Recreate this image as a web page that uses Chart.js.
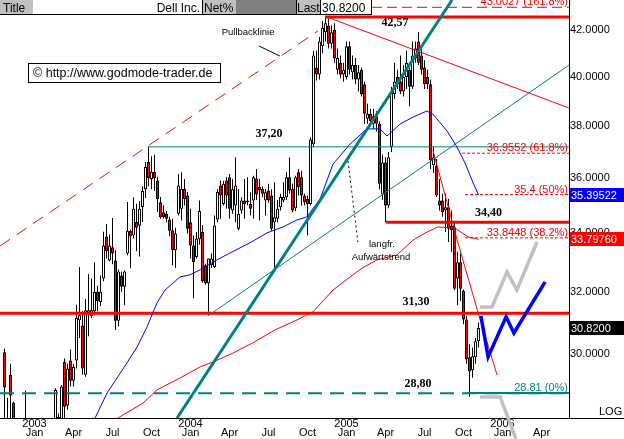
<!DOCTYPE html>
<html>
<head>
<meta charset="utf-8">
<title>Dell Inc. weekly</title>
<script src="https://cdn.jsdelivr.net/npm/chart.js@4.4.0/dist/chart.umd.min.js"></script>
<style>
  html, body { margin: 0; padding: 0; background: #fff; }
  #wrap { width: 624px; height: 439px; }
  canvas { display: block; }
</style>
</head>
<body>
<div id="wrap"><canvas id="chart" width="624" height="439"></canvas></div>
<script>
/* ------------------------------------------------------------
   Dell Inc. weekly candles, index 0 = late Oct 2002.
   null = week sits completely below the visible price range.
   ------------------------------------------------------------ */
const opens = [30.05,27.6,29.36,28.52,null,null,null,27.6,null,null,null,null,null,null,null,null,null,27.6,27.8,27.9,
  29.76,28.43,29.80,29.18,29.80,31.07,30.9,29.36,31.3,31.2,31.36,32.0,31.66,32.45,33.89,33.06,33.52,33.06,31.05,32.55,
  32.17,33.3,34.1,33.93,34.41,34.27,34.95,35.6,36.62,35.98,36.25,35.92,35.12,34.76,34.7,34.5,34.11,33.41,34.70,34.88,
  35.61,35.37,34.40,33.58,33.18,33.8,34.05,32.9,32.29,32.9,32.84,34.5,35.74,35.06,35.92,36.04,34.82,35.0,34.17,34.82,
  35.18,35.12,35.06,35.18,36.0,35.68,35.61,35.18,35.55,35.37,34.40,34.52,34.94,35.18,35.3,36.04,35.61,34.9,36.23,36.04,
  35.37,35.24,35.06,37.3,40.4,40.1,41.3,41.9,42.2,41.4,42.0,40.3,40.6,40.1,40.0,41.3,40.2,40.5,39.9,40.3,
  39.7,38.3,38.5,38.1,38.4,38.1,35.4,36.6,35.0,37.2,39.3,40.0,39.8,39.4,40.0,40.3,39.6,40.8,41.5,40.9,
  40.4,40.0,39.7,36.5,36.48,35.18,35.18,34.82,34.94,34.28,34.22,32.45,33.0,32.03,31.09,29.9,29.5,29.9,30.4];
const highs = [30.17,28.67,29.70,28.55,null,null,null,28.88,null,null,null,null,null,null,null,null,null,28.95,28.2,29.05,
  29.86,29.70,30.14,29.7,31.57,32.84,31.36,31.76,32.6,32.45,33.0,32.2,32.55,34.06,34.34,33.96,34.55,33.41,32.75,32.68,
  32.72,35.13,34.13,35.3,35.07,35.17,35.71,36.62,37.20,36.84,36.9,36.06,35.31,35.0,34.8,34.6,34.52,34.2,36.17,36.23,
  35.98,35.5,34.88,33.93,34.05,35.18,34.3,32.95,33.13,33.3,34.64,35.6,35.92,35.9,36.04,36.17,35.98,36.79,35.61,35.3,
  35.98,36.04,35.49,36.10,36.35,35.98,35.7,35.61,35.8,35.6,35.86,35.2,35.43,35.86,36.23,36.79,35.8,36.1,36.35,36.29,
  35.43,35.37,37.57,41.1,41.1,41.7,42.4,42.57,42.5,42.2,42.3,41.2,40.9,40.6,41.5,41.5,40.9,40.8,40.5,40.4,
  39.8,38.9,38.7,38.7,38.6,38.2,36.9,36.8,37.0,39.6,40.6,40.3,40.9,40.5,41.1,40.4,41.5,41.5,41.9,41.3,
  40.7,40.3,39.9,37.2,36.73,35.98,35.43,35.43,35.24,34.82,34.4,33.36,33.3,32.08,31.2,30.3,30.2,30.5,31.0];
const lows = [27.8,27.3,27.8,27.5,null,null,null,27.4,null,null,null,null,null,null,null,null,null,27.4,27.6,27.7,
  27.9,28.31,29.0,29.0,29.55,30.5,29.36,29.3,30.56,31.14,31.23,31.36,31.53,32.35,33.13,33.03,32.93,30.76,30.88,32.0,
  31.56,33.24,32.79,33.82,33.38,33.2,34.41,35.28,35.71,35.6,35.53,34.77,34.52,34.52,34.4,33.9,32.90,32.8,34.64,34.46,
  35.0,34.0,33.13,31.79,33.13,33.6,32.3,32.24,31.25,32.8,32.79,34.4,34.52,35.0,34.88,34.52,34.7,34.40,34.11,34.7,
  34.52,35.0,34.64,34.52,35.2,34.46,35.3,34.64,35.1,34.1,32.73,34.4,34.82,35.12,35.2,35.43,34.76,34.8,35.37,35.0,
  35.0,33.93,35.0,37.2,39.85,39.9,41.0,41.5,41.2,41.2,40.6,40.1,39.95,39.8,39.9,40.1,39.9,39.7,39.4,39.2,
  38.1,38.1,38.0,37.9,37.8,35.6,35.2,34.40,34.9,37.0,39.1,39.5,39.3,39.2,39.5,38.8,39.5,40.6,40.5,40.1,
  39.5,39.5,36.35,36.2,35.31,34.82,34.6,34.05,33.70,33.36,32.05,31.56,31.7,30.94,29.7,28.70,29.27,29.7,30.2];
const closes = [28.97,27.9,28.73,27.9,null,null,null,27.9,null,null,null,null,null,null,null,null,null,28.9,28.1,29.0,
  28.40,29.55,29.18,29.6,31.14,31.23,29.55,31.39,31.39,31.39,32.0,31.7,32.0,33.58,33.38,33.58,33.3,31.05,32.68,32.17,
  32.68,34.1,33.9,34.88,34.2,34.88,35.53,36.43,36.01,36.25,36.01,35.24,34.58,34.58,34.52,34.1,33.41,34.0,35.74,35.61,
  35.24,34.17,33.58,33.01,33.82,34.8,32.35,32.29,33.13,33.13,34.28,35.5,35.37,35.80,35.37,34.88,35.6,35.74,34.70,35.18,
  35.06,35.18,34.88,36.04,35.4,35.55,35.43,35.49,35.18,34.17,34.58,34.88,35.31,35.31,36.04,35.55,34.82,36.04,35.68,35.37,
  35.12,35.06,37.49,40.9,40.1,41.5,42.1,42.3,41.4,41.9,40.8,40.8,40.1,40.3,41.3,40.3,40.5,39.9,40.2,39.3,
  38.5,38.5,38.2,38.4,38.1,35.8,36.6,35.0,36.8,39.4,39.8,39.7,39.4,40.0,40.6,39.6,40.9,41.2,40.6,40.3,
  39.7,39.7,36.7,36.8,35.37,35.0,34.76,34.94,34.17,34.11,32.1,33.0,32.1,31.09,29.83,29.46,29.93,30.4,30.82];

// moving averages (week index, price)
const blueAvgWeek = [30.2,34.2,37.5,40.8,44.2,47.5,50.8,53.5,58.5,61.8,65.2,70.8,75.2,81.8,87.5,92.8,97.5,100.8,105.2,109.5,
  115.2,120.8,125.2,127.5,131.8,136.2,140.8,142.8,147.5,150.8,153.5,156.2,158];
const blueAvgValue = [28.07,28.81,29.26,29.72,30.22,30.85,31.63,32.06,32.50,32.57,32.74,33.08,33.32,33.67,34.02,34.23,34.48,34.59,35.24,36.54,
  37.31,37.90,37.90,37.62,38.09,38.37,38.61,38.49,37.82,37.20,36.58,35.83,35.39522];
const redAvgWeek = [37.8,46.2,50.8,58.5,65.2,69.5,76.2,82.8,90.2,97.5,102.8,109.5,115.2,119.2,124.2,130.8,136.2,140.8,144.5,150.2,154.5,158];
const redAvgValue = [28.07,28.51,28.90,29.26,29.60,29.75,30.03,30.35,30.76,31.08,31.34,32.06,32.50,32.80,33.08,33.25,33.77,34.05,34.23,34.19,33.88,33.7976];

// support / resistance levels
const levelValues = [42.57, 37.20, 34.40, 31.30, 28.80];
const levelStart = [106.8, 47.8, 127.2, -1.5, -1.5];
const levelLabels = ['42,57', '37,20', '34,40', '31,30', '28,80'];
const levelLabelWeek = [130.2, 88.2, 161.3, 137.2, 137.8];
const levelLabelPrice = [42.31, 37.70, 34.73, 31.66, 29.08];

// fibonacci levels
const fibValues = [43.0027, 36.9552, 35.4, 33.8448, 28.81];
const fibStart = [122.5, 152.5, 153.5, 153.5, 154.2];
const fibLabels = ['43.0027 (161.8%)', '36.9552 (61.8%)', '35.4 (50%)', '33.8448 (38.2%)', '28.81 (0%)'];

// trend lines and projections (week index, price)
const pullbackWeek = [-1.5, 104.5], pullbackPrice = [33.56, 41.96];
const upThickWeek = [57.5, 149.2], upThickPrice = [28.07, 43.33];
const upThinWeek = [67.8, 188.2], upThinPrice = [31.21, 40.50];
const downWeek = [107.5, 188.2], downPrice = [42.57, 38.73];
const steepWeek = [142.8, 150.8, 157.8, 164.2], steepPrice = [37.08, 33.80, 31.34, 29.35];
const blueProjWeek = [158.8, 161.2, 167.2, 169.8, 180.2], blueProjPrice = [31.21, 29.91, 31.18, 30.66, 32.33];
const grayUpWeek = [158.5, 162.5, 167.5, 170.8, 177.5], grayUpPrice = [31.50, 31.50, 32.67, 32.06, 33.70];
const grayDownWeek = [158.5, 165.2, 170.5], grayDownPrice = [28.69, 28.69, 27.47];
const pullbackPointerWeek = [84.8, 91.8], pullbackPointerPrice = [41.31, 40.88];
const trendPointerWeek = [114.5, 117.8], trendPointerPrice = [36.66, 33.70];

// notes
const noteTexts = ['Pullbacklinie', 'langfr.', 'Aufwärtstrend'];
const noteWeek = [81.2, 125.8, 125.5];
const notePrice = [41.91, 33.63, 33.18];

// axis ticks
const tickWeeks = [10, 23, 36, 49, 62, 75, 88, 101, 114, 127, 140, 153, 166, 179];
const tickMonths = ['Jan','Apr','Jul','Oct','Jan','Apr','Jul','Oct','Jan','Apr','Jul','Oct','Jan','Apr'];
const tickYears = ['2003','','','','2004','','','','2005','','','','2006',''];
const priceTicks = [30, 32, 34, 36, 38, 40, 42];

// last values flagged on the price axis
const markerValues = [35.39522, 33.7976, 30.82];
const markerLabels = ['35.39522', '33.79760', '30.8200'];

/* ------------------------------------------------------------ */

const RED = '#ff0000', TEAL = '#008080', BLUE = '#0000ff', GRAY = '#c0c0c0';
const X_MIN = -1.5, X_MAX = X_MIN + 569 / 3;
const Y_MIN = 28.07, Y_MAX = 43.33;
const FONT = '"Liberation Sans", Arial, sans-serif';

Chart.defaults.font.family = FONT;
Chart.defaults.font.size = 11;
Chart.defaults.color = '#000';

const wickData = [], bodyData = [], bodyFill = [];
opens.forEach((o, i) => {
  if (o === null) return;
  wickData.push({ x: i, y: [lows[i], highs[i]] });
  bodyData.push({ x: i, y: [o, closes[i]] });
  bodyFill.push(closes[i] >= o ? '#ffffff' : RED);
});

const datasets = [];

function addLine(weeks, prices, style) {
  datasets.push(Object.assign({
    type: 'line',
    data: weeks.map((w, k) => ({ x: w, y: prices[k] })),
    pointRadius: 0,
    fill: false,
    tension: 0,
    borderCapStyle: 'butt',
    borderWidth: 1,
    order: 3,
  }, style));
}

// projections on top
addLine(blueProjWeek, blueProjPrice, { borderColor: BLUE, borderWidth: 3.5, order: 0 });
addLine(grayUpWeek, grayUpPrice, { borderColor: GRAY, borderWidth: 3.5, order: 0 });
addLine(grayDownWeek, grayDownPrice, { borderColor: GRAY, borderWidth: 3.5, order: 0, clip: false });

// trend lines
addLine(upThickWeek, upThickPrice, { borderColor: TEAL, borderWidth: 3, order: 1 });
addLine(upThinWeek, upThinPrice, { borderColor: TEAL, order: 2 });
addLine(downWeek, downPrice, { borderColor: RED, order: 2 });
addLine(steepWeek, steepPrice, { borderColor: RED, order: 2 });
addLine(pullbackWeek, pullbackPrice, { borderColor: RED, borderDash: [12, 8], order: 2 });
addLine(pullbackPointerWeek, pullbackPointerPrice, { borderColor: '#000', order: 2 });
addLine(trendPointerWeek, trendPointerPrice, { borderColor: '#000', borderDash: [2, 3], order: 2 });

// moving averages
addLine(blueAvgWeek, blueAvgValue, { borderColor: BLUE, order: 3 });
addLine(redAvgWeek, redAvgValue, { borderColor: RED, order: 3 });

// horizontal levels
const levelStyles = [
  { borderColor: RED, borderWidth: 3 },
  { borderColor: TEAL, borderWidth: 1 },
  { borderColor: RED, borderWidth: 3 },
  { borderColor: RED, borderWidth: 3 },
  { borderColor: TEAL, borderWidth: 2, borderDash: [14, 8] },
];
levelValues.forEach((v, k) => addLine([levelStart[k], X_MAX], [v, v], Object.assign({ order: 4 }, levelStyles[k])));

const fibStyles = [
  { borderColor: RED, borderDash: [10, 5] },
  { borderColor: RED, borderDash: [3, 2] },
  { borderColor: RED, borderDash: [3, 2] },
  { borderColor: RED, borderDash: [3, 2] },
  { borderColor: TEAL, borderWidth: 2 },
];
fibValues.forEach((v, k) => addLine([fibStart[k], X_MAX], [v, v], Object.assign({ order: 4 }, fibStyles[k])));

// candles
datasets.push({
  type: 'bar',
  data: bodyData,
  backgroundColor: bodyFill,
  borderColor: '#000',
  borderWidth: 1,
  borderSkipped: false,
  inflateAmount: 0,
  barThickness: 3,
  grouped: false,
  order: 10,
});
datasets.push({
  type: 'bar',
  data: wickData,
  backgroundColor: '#000',
  borderWidth: 0,
  inflateAmount: 0,
  barThickness: 1,
  grouped: false,
  order: 11,
});

const overlay = {
  id: 'overlay',
  afterDatasetsDraw(chart) {
    const { ctx, chartArea: area, scales: { x, y } } = chart;
    ctx.save();
    ctx.beginPath();
    ctx.rect(area.left, area.top, area.right - area.left, area.bottom - area.top);
    ctx.clip();

    // fibonacci captions sit just above their line
    ctx.font = '11px ' + FONT;
    ctx.textAlign = 'right';
    ctx.textBaseline = 'alphabetic';
    fibValues.forEach((v, k) => {
      ctx.fillStyle = k === fibValues.length - 1 ? TEAL : RED;
      ctx.fillText(fibLabels[k], area.right - 1, Math.round(y.getPixelForValue(v)) - 2);
    });

    // level captions
    ctx.font = 'bold 12px "Liberation Serif", "Times New Roman", serif';
    ctx.textAlign = 'center';
    ctx.textBaseline = 'middle';
    ctx.fillStyle = '#000';
    levelLabels.forEach((t, k) => {
      ctx.fillText(t, x.getPixelForValue(levelLabelWeek[k]), y.getPixelForValue(levelLabelPrice[k]));
    });

    // notes
    ctx.font = '9.5px ' + FONT;
    noteTexts.forEach((t, k) => {
      ctx.fillText(t, x.getPixelForValue(noteWeek[k]), y.getPixelForValue(notePrice[k]));
    });
    ctx.restore();
  },
  afterDraw(chart) {
    const { ctx, chartArea: area, scales: { y } } = chart;
    const W = chart.width;
    ctx.save();

    // bottom rule runs under the price axis too
    ctx.strokeStyle = '#000';
    ctx.lineWidth = 1;
    ctx.beginPath();
    ctx.moveTo(area.right, area.bottom + 0.5);
    ctx.lineTo(W, area.bottom + 0.5);
    ctx.stroke();

    // flagged values on the price axis
    const markerBg = [BLUE, RED, '#000'];
    ctx.font = '11px ' + FONT;
    ctx.textAlign = 'left';
    ctx.textBaseline = 'middle';
    markerValues.forEach((v, k) => {
      const py = Math.round(y.getPixelForValue(v));
      ctx.fillStyle = markerBg[k];
      ctx.fillRect(area.right + 1, py - 7, W - area.right - 1, 14);
      ctx.fillStyle = '#fff';
      ctx.fillText(markerLabels[k], area.right + 2, py + 0.5);
    });

    ctx.fillStyle = '#000';
    ctx.textBaseline = 'alphabetic';
    ctx.fillText('LOG', W - 25, area.bottom - 3);

    // header strip
    ctx.fillStyle = '#fff';
    ctx.fillRect(0, 0, 372, 14);
    ctx.fillStyle = GRAY;
    ctx.fillRect(0, 0, 33, 14);
    ctx.fillRect(202, 0, 34, 14);
    ctx.fillRect(296, 0, 24, 14);
    ctx.fillStyle = '#808080';
    ctx.fillRect(236, 0, 60, 14);
    ctx.strokeStyle = '#000';
    ctx.beginPath();
    ctx.moveTo(202.5, 0); ctx.lineTo(202.5, 14);
    ctx.moveTo(296.5, 0); ctx.lineTo(296.5, 14);
    ctx.moveTo(0, 14.5); ctx.lineTo(372, 14.5);
    ctx.stroke();
    ctx.strokeRect(320.5, -0.5, 51, 15);

    ctx.font = '12px ' + FONT;
    ctx.fillStyle = '#000';
    ctx.textAlign = 'left';
    ctx.fillText('Title', 3, 12);
    ctx.fillText('Net%', 204, 12);
    ctx.fillText('Last', 297, 12);
    ctx.fillText('30.8200', 322, 12);
    ctx.textAlign = 'right';
    ctx.fillText('Dell Inc.', 200, 12);

    // copyright box
    ctx.fillStyle = '#fff';
    ctx.fillRect(28, 63, 193, 19);
    ctx.strokeRect(28.5, 63.5, 192, 19);
    ctx.fillStyle = '#000';
    ctx.textAlign = 'left';
    ctx.font = '12.5px ' + FONT;
    ctx.fillText('\u00a9 http://www.godmode-trader.de', 33, 77);
    ctx.restore();
  },
};

new Chart(document.getElementById('chart'), {
  type: 'bar',
  data: { datasets },
  options: {
    responsive: false,
    animation: false,
    events: [],
    devicePixelRatio: 1,
    layout: { padding: 0 },
    plugins: { legend: { display: false }, tooltip: { enabled: false } },
    scales: {
      x: {
        type: 'linear',
        min: X_MIN,
        max: X_MAX,
        offset: false,
        bounds: 'data',
        grid: { display: false, drawTicks: false },
        border: { display: true, color: '#000', width: 1 },
        ticks: {
          autoSkip: false,
          maxRotation: 0,
          minRotation: 0,
          padding: 1,
          font: { size: 11, lineHeight: 0.85 },
          callback: (v, i) => [tickYears[i], tickMonths[i]],
        },
        afterBuildTicks: s => { s.ticks = tickWeeks.map(v => ({ value: v })); },
        afterFit: s => {
          s.height = 21;
          s.paddingLeft = 0; s.paddingRight = 0;
        },
      },
      y: {
        type: 'logarithmic',
        position: 'right',
        min: Y_MIN,
        max: Y_MAX,
        bounds: 'data',
        grid: { display: false, drawTicks: false },
        border: { display: true, color: '#000', width: 1 },
        ticks: {
          padding: 1,
          font: { size: 11 },
          callback: v => Number(v).toFixed(4),
        },
        afterBuildTicks: s => { s.ticks = priceTicks.map(v => ({ value: v })); },
        afterFit: s => {
          s.width = 55;
          s.paddingTop = 0; s.paddingBottom = 0;
        },
      },
    },
  },
  plugins: [overlay],
});
</script>
</body>
</html>
